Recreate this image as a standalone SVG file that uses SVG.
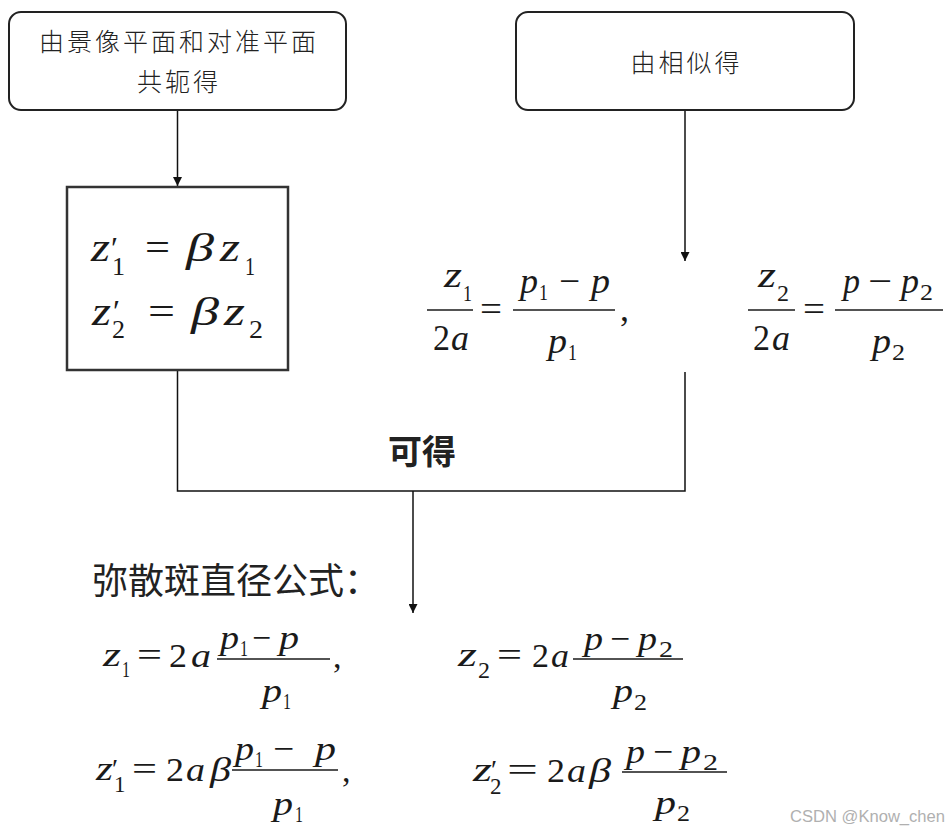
<svg xmlns="http://www.w3.org/2000/svg" width="949" height="831" viewBox="0 0 949 831">
<style>
.box{fill:#fff;stroke:#222;stroke-width:2}
.fbox{fill:#fff;stroke:#333;stroke-width:2.5}
.cjk{font-family:"Noto Sans CJK SC","Noto Sans",sans-serif;fill:#222}
.lbl{font-size:25px;font-weight:300;letter-spacing:3px;text-anchor:middle}
.f{font-family:"Liberation Serif","Times New Roman",serif;fill:#1a1a1a}
.i{font-style:italic}
.bar{stroke:#1a1a1a;stroke-width:1.7}
.conn{stroke:#111;stroke-width:1.5;fill:none}
.b40{font-size:40px}.s26{font-size:26px}.pr{font-size:32px}
.m36{font-size:36px}.s24{font-size:24px}
.m34{font-size:34px}.s23{font-size:23px}.pr2{font-size:28px}
</style>
<defs>
<marker id="arr" viewBox="0 0 10 10" refX="10" refY="5" markerWidth="9" markerHeight="9" markerUnits="userSpaceOnUse" orient="auto">
<path d="M0,0 L10,5 L0,10 z" fill="#111"/>
</marker>
</defs>
<rect width="949" height="831" fill="#fff"/>

<g id="connectors">
<path class="conn" d="M177.5,110 V186" marker-end="url(#arr)"/>
<path class="conn" d="M685,110 V261" marker-end="url(#arr)"/>
<path class="conn" d="M177.5,371 V491 H685 V372"/>
<path class="conn" d="M413,491 V613" marker-end="url(#arr)"/>
</g>

<g id="node-conjugate">
<rect class="box" x="9" y="12" width="337" height="98" rx="12"/>
<text class="cjk lbl" x="179" y="51">由景像平面和对准平面</text>
<text class="cjk lbl" x="179" y="91">共轭得</text>
</g>

<g id="node-similar">
<rect class="box" x="516" y="12" width="338" height="98" rx="12"/>
<text class="cjk lbl" x="686.5" y="72">由相似得</text>
</g>

<g id="node-beta">
<rect class="fbox" x="67" y="187" width="221" height="183"/>
<g class="f">
<text class="i b40" x="91" y="261" textLength="19" lengthAdjust="spacingAndGlyphs">z</text>
<text class="s26"><tspan class="pr" x="111" y="259">′</tspan><tspan x="112" y="275">1</tspan></text>
<text class="b40" x="145" y="261" textLength="25" lengthAdjust="spacingAndGlyphs">=</text>
<text class="i b40" x="186" y="261" textLength="28" lengthAdjust="spacingAndGlyphs">β</text>
<text class="i b40" x="220" y="261" textLength="20" lengthAdjust="spacingAndGlyphs">z</text>
<text class="s26" x="245" y="275" textLength="10" lengthAdjust="spacingAndGlyphs">1</text>
<text class="i b40" x="92" y="325" textLength="19" lengthAdjust="spacingAndGlyphs">z</text>
<text class="s26"><tspan class="pr" x="113" y="322">′</tspan><tspan x="112" y="338">2</tspan></text>
<text class="b40" x="148" y="325" textLength="27" lengthAdjust="spacingAndGlyphs">=</text>
<text class="i b40" x="191" y="325" textLength="28" lengthAdjust="spacingAndGlyphs">β</text>
<text class="i b40" x="224" y="325" textLength="21" lengthAdjust="spacingAndGlyphs">z</text>
<text class="s26" x="249" y="338" textLength="14" lengthAdjust="spacingAndGlyphs">2</text>
</g>
</g>

<g id="node-similar-eqs" class="f">
<text class="i m36" x="444" y="287" textLength="18" lengthAdjust="spacingAndGlyphs">z</text>
<text class="s24" x="463" y="301" textLength="9" lengthAdjust="spacingAndGlyphs">1</text>
<line class="bar" x1="427" y1="310" x2="473" y2="310"/>
<text class="m36" x="433" y="350" textLength="17" lengthAdjust="spacingAndGlyphs">2</text>
<text class="i m36" x="451" y="350" textLength="18" lengthAdjust="spacingAndGlyphs">a</text>
<text class="m36" x="480" y="321" textLength="22" lengthAdjust="spacingAndGlyphs">=</text>
<line class="bar" x1="513" y1="310" x2="615" y2="310"/>
<text class="i m36" x="520" y="293" textLength="18" lengthAdjust="spacingAndGlyphs">p</text>
<text class="s24" x="539" y="300" textLength="9" lengthAdjust="spacingAndGlyphs">1</text>
<text class="m36" x="559" y="293" textLength="21" lengthAdjust="spacingAndGlyphs">−</text>
<text class="i m36" x="591" y="293" textLength="19" lengthAdjust="spacingAndGlyphs">p</text>
<text class="i m36" x="548" y="353" textLength="19" lengthAdjust="spacingAndGlyphs">p</text>
<text class="s24" x="568" y="360" textLength="9" lengthAdjust="spacingAndGlyphs">1</text>
<text class="m36" x="620" y="321">,</text>

<text class="i m36" x="758" y="287" textLength="18" lengthAdjust="spacingAndGlyphs">z</text>
<text class="s24" x="777" y="301" textLength="12" lengthAdjust="spacingAndGlyphs">2</text>
<line class="bar" x1="748" y1="310" x2="795" y2="310"/>
<text class="m36" x="753" y="350" textLength="17" lengthAdjust="spacingAndGlyphs">2</text>
<text class="i m36" x="772" y="350" textLength="18" lengthAdjust="spacingAndGlyphs">a</text>
<text class="m36" x="803" y="321" textLength="22" lengthAdjust="spacingAndGlyphs">=</text>
<line class="bar" x1="835" y1="310" x2="943" y2="310"/>
<text class="i m36" x="843" y="293" textLength="17" lengthAdjust="spacingAndGlyphs">p</text>
<text class="m36" x="868" y="293" textLength="24" lengthAdjust="spacingAndGlyphs">−</text>
<text class="i m36" x="901" y="293" textLength="18" lengthAdjust="spacingAndGlyphs">p</text>
<text class="s24" x="920" y="300" textLength="13" lengthAdjust="spacingAndGlyphs">2</text>
<text class="i m36" x="872" y="353" textLength="19" lengthAdjust="spacingAndGlyphs">p</text>
<text class="s24" x="892" y="360" textLength="13" lengthAdjust="spacingAndGlyphs">2</text>
</g>

<g id="label-result">
<text class="cjk" x="422" y="464" font-size="34" font-weight="700" text-anchor="middle">可得</text>
</g>

<g id="title">
<text class="cjk" x="92" y="594" font-size="36">弥散斑直径公式：</text>
</g>

<g id="result-eqs" class="f">
<text class="i m34" x="103" y="666" textLength="18" lengthAdjust="spacingAndGlyphs">z</text>
<text class="s23" x="122" y="677" textLength="8" lengthAdjust="spacingAndGlyphs">1</text>
<text class="m34" x="137" y="666" textLength="25" lengthAdjust="spacingAndGlyphs">=</text>
<text class="m34" x="169" y="667" textLength="18" lengthAdjust="spacingAndGlyphs">2</text>
<text class="i m34" x="191" y="667" textLength="20" lengthAdjust="spacingAndGlyphs">a</text>
<line class="bar" x1="217" y1="659" x2="330" y2="659"/>
<text class="i m34" x="220" y="649" textLength="19" lengthAdjust="spacingAndGlyphs">p</text>
<text class="s23" x="240" y="656" textLength="8" lengthAdjust="spacingAndGlyphs">1</text>
<text class="m34" x="252" y="649" textLength="19" lengthAdjust="spacingAndGlyphs">−</text>
<text class="i m34" x="279" y="649" textLength="20" lengthAdjust="spacingAndGlyphs">p</text>
<text class="i m34" x="262" y="702" textLength="20" lengthAdjust="spacingAndGlyphs">p</text>
<text class="s23" x="283" y="709" textLength="8" lengthAdjust="spacingAndGlyphs">1</text>
<text class="m34" x="333" y="668">,</text>

<text class="i m34" x="458" y="666" textLength="19" lengthAdjust="spacingAndGlyphs">z</text>
<text class="s23" x="478" y="678" textLength="12" lengthAdjust="spacingAndGlyphs">2</text>
<text class="m34" x="497" y="666" textLength="25" lengthAdjust="spacingAndGlyphs">=</text>
<text class="m34" x="532" y="667" textLength="17" lengthAdjust="spacingAndGlyphs">2</text>
<text class="i m34" x="551" y="667" textLength="18" lengthAdjust="spacingAndGlyphs">a</text>
<line class="bar" x1="573" y1="659" x2="683" y2="659"/>
<text class="i m34" x="584" y="650" textLength="19" lengthAdjust="spacingAndGlyphs">p</text>
<text class="m34" x="610" y="650" textLength="20" lengthAdjust="spacingAndGlyphs">−</text>
<text class="i m34" x="638" y="650" textLength="19" lengthAdjust="spacingAndGlyphs">p</text>
<text class="s23" x="659" y="657" textLength="14" lengthAdjust="spacingAndGlyphs">2</text>
<text class="i m34" x="613" y="702" textLength="20" lengthAdjust="spacingAndGlyphs">p</text>
<text class="s23" x="634" y="710" textLength="13" lengthAdjust="spacingAndGlyphs">2</text>

<text class="i m34" x="96" y="780" textLength="17" lengthAdjust="spacingAndGlyphs">z</text>
<text class="s23"><tspan class="pr2" x="112" y="778">′</tspan><tspan x="114" y="792">1</tspan></text>
<text class="m34" x="132" y="780" textLength="25" lengthAdjust="spacingAndGlyphs">=</text>
<text class="m34" x="166" y="781" textLength="18" lengthAdjust="spacingAndGlyphs">2</text>
<text class="i m34" x="186" y="781" textLength="19" lengthAdjust="spacingAndGlyphs">a</text>
<text class="i m34" x="210" y="781" textLength="21" lengthAdjust="spacingAndGlyphs">β</text>
<line class="bar" x1="232" y1="770" x2="338" y2="770"/>
<text class="i m34" x="235" y="760" textLength="19" lengthAdjust="spacingAndGlyphs">p</text>
<text class="s23" x="255" y="767" textLength="8" lengthAdjust="spacingAndGlyphs">1</text>
<text class="m34" x="273" y="760" textLength="21" lengthAdjust="spacingAndGlyphs">−</text>
<text class="i m34" x="315" y="760" textLength="21" lengthAdjust="spacingAndGlyphs">p</text>
<text class="i m34" x="273" y="815" textLength="20" lengthAdjust="spacingAndGlyphs">p</text>
<text class="s23" x="295" y="822" textLength="8" lengthAdjust="spacingAndGlyphs">1</text>
<text class="m34" x="342" y="782">,</text>

<text class="i m34" x="473" y="781" textLength="19" lengthAdjust="spacingAndGlyphs">z</text>
<text class="s23"><tspan class="pr2" x="491" y="779">′</tspan><tspan x="490" y="794">2</tspan></text>
<text class="m34" x="507" y="781" textLength="31" lengthAdjust="spacingAndGlyphs">=</text>
<text class="m34" x="547" y="782" textLength="18" lengthAdjust="spacingAndGlyphs">2</text>
<text class="i m34" x="567" y="782" textLength="19" lengthAdjust="spacingAndGlyphs">a</text>
<text class="i m34" x="589" y="782" textLength="22" lengthAdjust="spacingAndGlyphs">β</text>
<line class="bar" x1="622" y1="772" x2="727" y2="772"/>
<text class="i m34" x="626" y="763" textLength="19" lengthAdjust="spacingAndGlyphs">p</text>
<text class="m34" x="653" y="763" textLength="20" lengthAdjust="spacingAndGlyphs">−</text>
<text class="i m34" x="681" y="763" textLength="20" lengthAdjust="spacingAndGlyphs">p</text>
<text class="s23" x="703" y="770" textLength="15" lengthAdjust="spacingAndGlyphs">2</text>
<text class="i m34" x="655" y="814" textLength="21" lengthAdjust="spacingAndGlyphs">p</text>
<text class="s23" x="677" y="821" textLength="13" lengthAdjust="spacingAndGlyphs">2</text>
</g>

<g id="watermark">
<text x="790" y="822" font-family="Liberation Sans,Arial,sans-serif" font-size="16" fill="#b0b0b0" textLength="155" lengthAdjust="spacingAndGlyphs">CSDN @Know_chen</text>
</g>
</svg>
